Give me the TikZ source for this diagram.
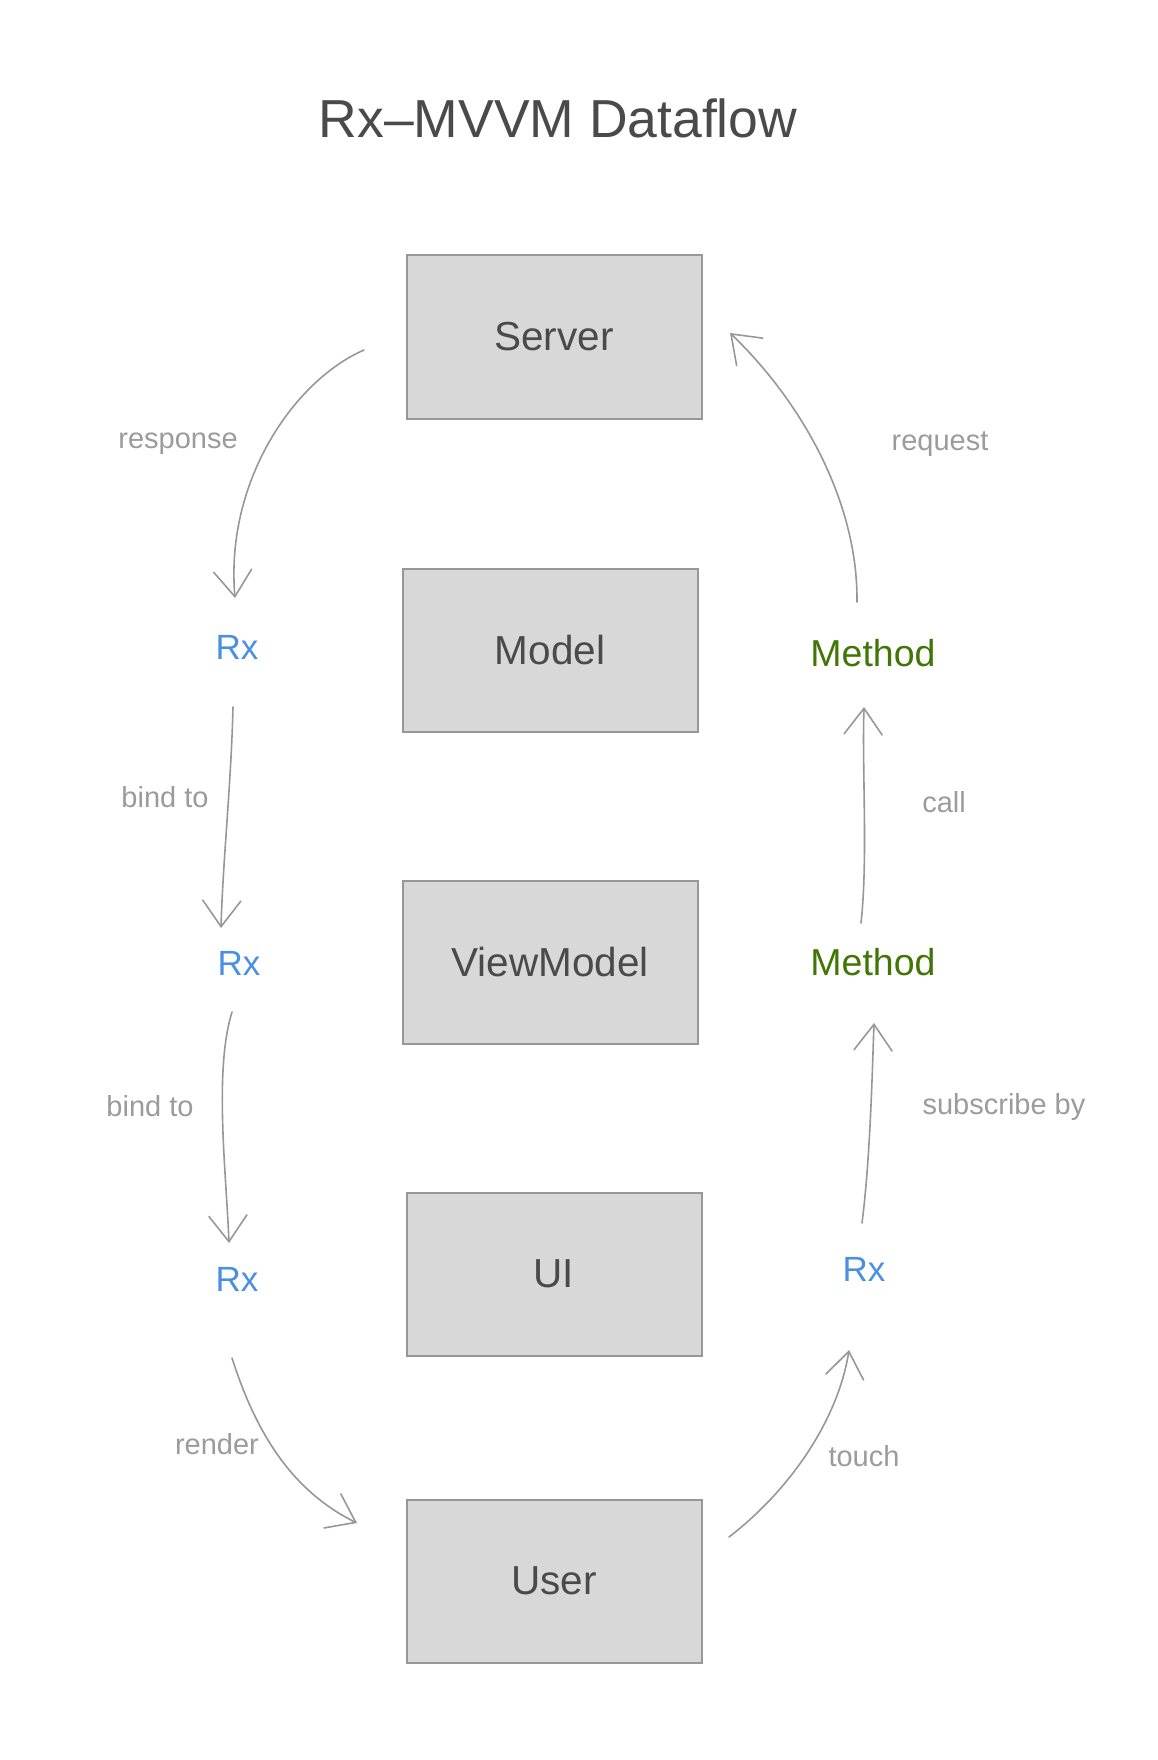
\documentclass[tikz,border=0pt]{standalone}
\usepackage{fontspec}
\setmainfont{Liberation Sans}
\usetikzlibrary{calc,arrows.meta}

\definecolor{boxfill}{HTML}{D8D8D8}
\definecolor{boxline}{HTML}{979797}
\definecolor{darktext}{HTML}{4A4A4A}
\definecolor{labeltext}{HTML}{9B9B9B}
\definecolor{rxblue}{HTML}{4A90E2}
\definecolor{methodgreen}{HTML}{417505}

\begin{document}
\begin{tikzpicture}[x=1pt, y=-1pt,
    layer/.style={draw=boxline, line width=2pt, fill=boxfill, minimum width=295pt, minimum height=163pt,
        inner sep=0pt, text=darktext, font=\fontsize{40.5}{46}\selectfont},
    rx/.style={text=rxblue, inner sep=0pt, font=\fontsize{35}{40}\selectfont},
    method/.style={text=methodgreen, inner sep=0pt, font=\fontsize{37.5}{42}\selectfont},
    flowlabel/.style={text=labeltext, inner sep=0pt, font=\fontsize{29}{34}\selectfont},
    flow/.style={draw=boxline, line width=1.6pt, line cap=round, line join=round,
        -{Straight Barb[length=26pt, width=38pt, line cap=round]}}]
    \useasboundingbox (0,0) rectangle (1158,1760);
    \node[text=darktext, font=\fontsize{53.5}{62}\selectfont] (title) at (558,118) {Rx–MVVM Dataflow};

    % layers
    \node[layer] (server) at (554,337) {Server};
    \node[layer] (model) at (550,650) {Model};
    \node[layer] (viewmodel) at (550,962) {ViewModel};
    \node[layer] (ui) at (554,1274) {UI};
    \node[layer] (user) at (554,1581) {User};

    % streams and methods
    \node[rx] (rxa) at (237,647) {Rx}; \node[rx] (rxb) at (239,963) {Rx}; \node[rx] (rxc) at (237,1279) {Rx};
    \node[rx] (rxd) at (864,1269) {Rx};
    \node[method] (methoda) at (873,653) {Method}; \node[method] (methodb) at (873,962) {Method};

    % down the left side
    \draw[flow] ($(server)+(-190,13)$) .. controls +(-69,30) and +(-10,-118) .. ($(rxa)+(-2,-49)$);
    \draw[flow] ($(rxa)+(-4,60)$) .. controls +(-2,80) and +(2,-70) .. ($(rxb)+(-18,-35)$);
    \draw[flow] ($(rxb)+(-7,49)$) .. controls +(-18,58) and +(-3,-73) .. ($(rxc)+(-8,-36)$);
    \draw[flow] ($(rxc)+(-5,79)$) .. controls +(23,72) and +(-67,-33) .. ($(user)+(-197,-58)$);

    % up the right side
    \draw[flow] ($(user)+(175,-44)$) .. controls +(61,-47) and +(-11,70) .. ($(rxd)+(-15,81)$);
    \draw[flow] ($(rxd)+(-2,-46)$) .. controls +(8,-63) and +(-2,57) .. ($(methodb)+(1,61)$);
    \draw[flow] ($(methodb)+(-12,-39)$) .. controls +(7,-63) and +(-2,63) .. ($(methoda)+(-9,54)$);
    \draw[flow] ($(methoda)+(-16,-51)$) .. controls +(1,-102) and +(70,67) .. ($(server)+(176,-4)$);

    \node[flowlabel] (lresponse) at (178,444) {response}; \node[flowlabel] (lrequest) at (940,444) {request};
    \node[flowlabel] (lbinda) at (165,797) {bind to}; \node[flowlabel] (lcall) at (944,802) {call};
    \node[flowlabel] (lbindb) at (150,1106) {bind to}; \node[flowlabel] (lsubscribe) at (1004,1107) {subscribe by};
    \node[flowlabel] (lrender) at (217,1444) {render}; \node[flowlabel] (ltouch) at (864,1456) {touch};
\end{tikzpicture}
\end{document}
